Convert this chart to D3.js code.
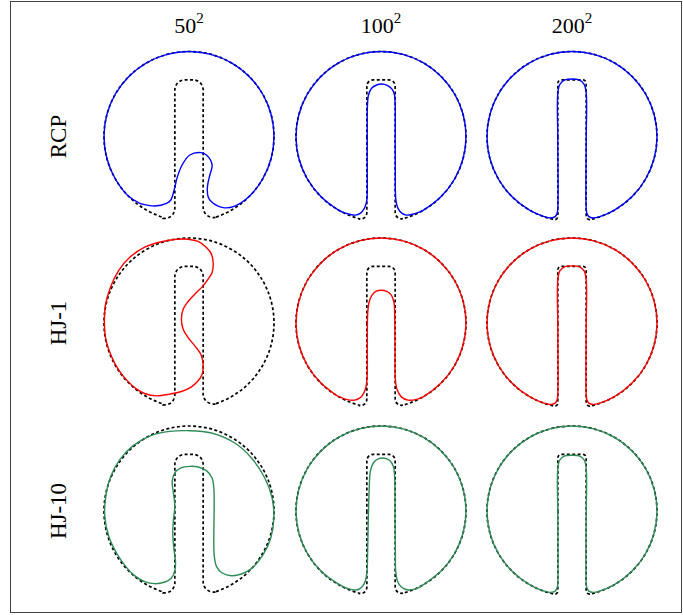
<!DOCTYPE html>
<html>
<head>
<meta charset="utf-8">
<script src="https://cdn.jsdelivr.net/npm/d3@7"></script>
<style>
  body { margin: 0; background: #fff; }
  text { font-family: "Liberation Serif", "DejaVu Serif", serif; fill: #000; }
</style>
</head>
<body>
<div id="chart"></div>
<script>
const width = 683, height = 615;

const resolutions = ["50", "100", "200"];
const methods = ["RCP", "HJ-1", "HJ-10"];
const curveColors = ["#0000ff", "#ff0000", "#2e8b57"];

// disk geometry in units of the disk radius
const slotHalf = 1 / 6;
const slotTop = 2 / 3;
// corner rounding of the dashed reference contour, per column [top, bottom]
const refCorner = [[0.12, 0.12], [0.075, 0.075], [0.04, 0.04]];

// rim of the disk, as followed by the computed contours
const rim = [
  [0.5, -0.866], [0.707, -0.707], [0.866, -0.5], [0.966, -0.259], [1, 0],
  [0.966, 0.259], [0.866, 0.5], [0.707, 0.707], [0.5, 0.866], [0.259, 0.966],
  [0, 1], [-0.259, 0.966], [-0.5, 0.866], [-0.707, 0.707], [-0.866, 0.5],
  [-0.966, 0.259], [-1, 0], [-0.966, -0.259], [-0.866, -0.5], [-0.707, -0.707],
  [-0.5, -0.866]
];

const rcp50Inner = [
  [-0.578, -0.786], [-0.540, -0.798], [-0.402, -0.818], [-0.265, -0.786], [-0.214, -0.747],
  [-0.175, -0.629], [-0.136, -0.472], [-0.081, -0.335], [0.009, -0.218], [0.139, -0.190],
  [0.205, -0.218], [0.272, -0.335], [0.245, -0.453], [0.217, -0.590], [0.225, -0.708],
  [0.264, -0.767], [0.402, -0.837], [0.539, -0.818]
];

const rcp100Inner = [
  [-0.45, -0.89], [-0.37, -0.915], [-0.30, -0.925], [-0.245, -0.905], [-0.196, -0.845],
  [-0.170, -0.77], [-0.162, -0.67], [-0.162, -0.355], [-0.162, 0.037], [-0.160, 0.351],
  [-0.147, 0.488], [-0.111, 0.567], [-0.052, 0.606], [0.006, 0.618], [0.073, 0.602],
  [0.132, 0.555], [0.159, 0.488], [0.167, 0.351], [0.167, -0.041], [0.168, -0.433],
  [0.170, -0.67], [0.178, -0.77], [0.200, -0.845], [0.248, -0.905], [0.30, -0.925],
  [0.37, -0.915], [0.45, -0.89]
];

const rcp200Inner = [
  [-0.327, -0.943], [-0.249, -0.959], [-0.198, -0.943], [-0.175, -0.904], [-0.167, -0.845],
  [-0.167, -0.041], [-0.167, 0.508], [-0.143, 0.614], [-0.084, 0.665], [0, 0.676],
  [0.084, 0.665], [0.143, 0.614], [0.167, 0.508], [0.167, -0.041], [0.167, -0.845],
  [0.175, -0.904], [0.198, -0.943], [0.249, -0.959], [0.327, -0.943]
];

const hj1_50 = [
  [-0.010, 0.986], [0.107, 0.959], [0.205, 0.888], [0.264, 0.810], [0.284, 0.712],
  [0.272, 0.594], [0.225, 0.516], [0.155, 0.425], [0.068, 0.339], [-0.010, 0.253],
  [-0.069, 0.163], [-0.089, 0.045], [-0.069, -0.073], [-0.010, -0.171], [0.068, -0.269],
  [0.139, -0.367], [0.166, -0.484], [0.155, -0.602], [0.107, -0.680], [0.029, -0.751],
  [-0.089, -0.806], [-0.226, -0.837], [-0.383, -0.857], [-0.515, -0.832], [-0.620, -0.775],
  [-0.730, -0.675], [-0.830, -0.548], [-0.910, -0.397], [-0.975, -0.208], [-0.995, -0.014],
  [-0.985, 0.202], [-0.925, 0.418], [-0.830, 0.614], [-0.694, 0.776], [-0.520, 0.893],
  [-0.324, 0.956], [-0.147, 0.985]
];

const hj1_100Inner = [
  [-0.506, -0.86], [-0.42, -0.895], [-0.31, -0.908], [-0.231, -0.869], [-0.184, -0.78],
  [-0.165, -0.663], [-0.161, -0.25], [-0.157, 0.104], [-0.141, 0.241], [-0.106, 0.327],
  [-0.055, 0.375], [0.004, 0.386], [0.067, 0.371], [0.122, 0.327], [0.153, 0.241],
  [0.161, 0.104], [0.165, -0.25], [0.169, -0.663], [0.188, -0.78], [0.239, -0.869],
  [0.318, -0.908], [0.43, -0.895]
];

const hj1_200Inner = [
  [-0.327, -0.943], [-0.249, -0.959], [-0.198, -0.943], [-0.175, -0.904], [-0.167, -0.845],
  [-0.167, -0.041], [-0.167, 0.505], [-0.143, 0.612], [-0.084, 0.662], [0, 0.672],
  [0.084, 0.662], [0.143, 0.612], [0.167, 0.505], [0.167, -0.041], [0.167, -0.845],
  [0.175, -0.904], [0.198, -0.943], [0.249, -0.959], [0.327, -0.943]
];

const hj10_50 = [
  [-0.010, 0.945], [0.264, 0.918], [0.539, 0.800], [0.735, 0.624], [0.892, 0.388],
  [0.978, 0.153], [0.998, -0.082], [0.962, -0.318], [0.872, -0.514], [0.735, -0.678],
  [0.617, -0.741], [0.500, -0.761], [0.390, -0.729], [0.323, -0.651], [0.296, -0.514],
  [0.292, -0.278], [0.296, 0.035], [0.292, 0.271], [0.272, 0.388], [0.205, 0.475],
  [0.107, 0.518], [0.009, 0.525], [-0.096, 0.506], [-0.167, 0.447], [-0.198, 0.349],
  [-0.183, 0.212], [-0.167, 0.055], [-0.183, -0.102], [-0.191, -0.259], [-0.179, -0.435],
  [-0.159, -0.592], [-0.167, -0.702], [-0.206, -0.788], [-0.285, -0.835], [-0.402, -0.855],
  [-0.528, -0.827], [-0.645, -0.757], [-0.736, -0.663], [-0.853, -0.494], [-0.944, -0.298],
  [-0.991, -0.063], [-0.979, 0.173], [-0.920, 0.408], [-0.814, 0.604], [-0.657, 0.769],
  [-0.442, 0.890], [-0.226, 0.937]
];

const hj10_100Inner = [
  [-0.50, -0.86], [-0.388, -0.914], [-0.29, -0.929], [-0.224, -0.894], [-0.184, -0.82],
  [-0.165, -0.71], [-0.157, -0.475], [-0.149, -0.082], [-0.137, 0.31], [-0.125, 0.467],
  [-0.09, 0.565], [-0.027, 0.616], [0.043, 0.620], [0.106, 0.592], [0.145, 0.525],
  [0.161, 0.388], [0.165, -0.082], [0.169, -0.475], [0.173, -0.71], [0.192, -0.82],
  [0.239, -0.894], [0.318, -0.929], [0.416, -0.914], [0.5, -0.86]
];

const hj10_200Inner = [
  [-0.327, -0.943], [-0.249, -0.959], [-0.198, -0.943], [-0.175, -0.904], [-0.167, -0.845],
  [-0.167, -0.041], [-0.167, 0.495], [-0.143, 0.600], [-0.084, 0.648], [0, 0.656],
  [0.084, 0.648], [0.143, 0.600], [0.167, 0.495], [0.167, -0.041], [0.167, -0.845],
  [0.175, -0.904], [0.198, -0.943], [0.249, -0.959], [0.327, -0.943]
];

// contours per [row][col]
const contours = [
  [rim.slice(1, -1).concat(rcp50Inner), rim.concat(rcp100Inner), rim.concat(rcp200Inner)],
  [hj1_50, rim.concat(hj1_100Inner), rim.concat(hj1_200Inner)],
  [hj10_50, rim.slice(0, -1).concat(hj10_100Inner.slice(0, -1)), rim.concat(hj10_200Inner)]
];

const colCenters = [189, 381, 572];
const rowCenters = [136.5, 323, 511];
const R = 85;

const svg = d3.select("#chart")
  .append("svg")
  .attr("width", width)
  .attr("height", height);

svg.append("rect")
  .attr("x", 10.5).attr("y", 1.5)
  .attr("width", 671).attr("height", 611)
  .attr("fill", "none")
  .attr("stroke", "#444")
  .attr("stroke-width", 1);

// slotted disk outline with rounded corners
const diskPath = (cx, cy, rTop, rBot) => {
  const h = R * slotHalf;
  const yt = cy - R * slotTop;
  const yb = cy + Math.sqrt(R * R - h * h);
  const a0 = Math.atan2(yb - cy, -h);
  const a1 = Math.atan2(yb - cy, h);
  const phi = Math.PI - a0;
  const t = rBot / Math.tan(phi / 2);
  const da = t / R;
  const p = d3.path();
  p.moveTo(cx - h, cy);
  p.arcTo(cx - h, yb, cx - h - 20 * Math.sin(a0), yb + 20 * Math.cos(a0), rBot);
  p.arc(cx, cy, R, a0 + da, a1 + 2 * Math.PI - da);
  p.arcTo(cx + h, yb, cx + h, cy, rBot);
  p.arcTo(cx + h, yt, cx - h, yt, rTop);
  p.arcTo(cx - h, yt, cx - h, cy, rTop);
  p.closePath();
  return p.toString();
};

methods.forEach((m, i) => {
  resolutions.forEach((res, j) => {
    const cx = colCenters[j], cy = rowCenters[i];
    const x = d3.scaleLinear().domain([-1, 1]).range([cx - R, cx + R]);
    const y = d3.scaleLinear().domain([-1, 1]).range([cy + R, cy - R]);

    const line = d3.line()
      .x(d => x(d[0]))
      .y(d => y(d[1]))
      .curve(d3.curveCatmullRomClosed.alpha(0.5));

    svg.append("path")
      .attr("d", diskPath(cx, cy, refCorner[j][0] * R, refCorner[j][1] * R))
      .attr("fill", "none")
      .attr("stroke", "#000")
      .attr("stroke-width", 1.7)
      .attr("stroke-dasharray", "3,2.4");

    svg.append("path")
      .attr("d", line(contours[i][j]))
      .attr("fill", "none")
      .attr("stroke", curveColors[i])
      .attr("stroke-width", 1.4);
  });
});

resolutions.forEach((res, j) => {
  const t = svg.append("text")
    .attr("x", colCenters[j])
    .attr("y", 33)
    .attr("text-anchor", "middle")
    .attr("font-size", 22);
  t.append("tspan").text(res);
  t.append("tspan").attr("dy", -10).attr("font-size", 15).text("2");
});

methods.forEach((m, i) => {
  svg.append("text")
    .attr("transform", `translate(66, ${rowCenters[i]}) rotate(-90)`)
    .attr("text-anchor", "middle")
    .attr("font-size", 23)
    .text(m);
});
</script>
</body>
</html>
